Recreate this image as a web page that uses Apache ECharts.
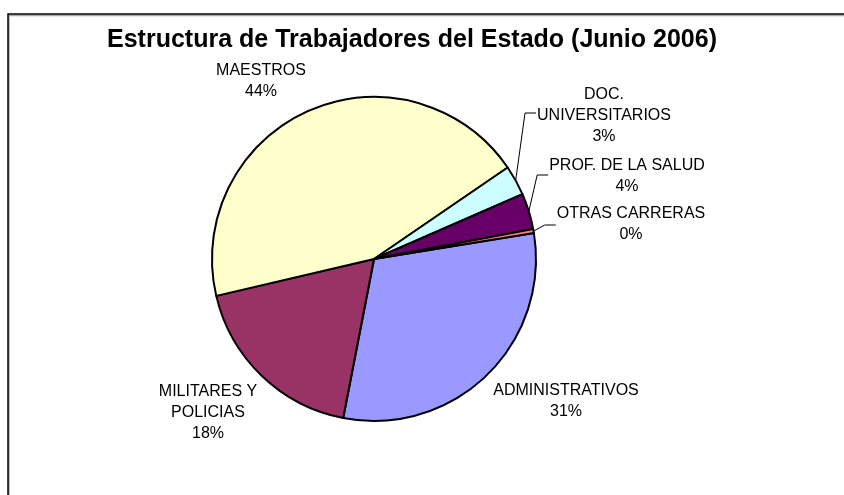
<!DOCTYPE html>
<html>
<head>
<meta charset="utf-8">
<script src="https://cdn.jsdelivr.net/npm/echarts@6/dist/echarts.min.js"></script>
<style>
html,body{margin:0;padding:0;background:#fff;}
#c{width:844px;height:495px;}
</style>
</head>
<body>
<div id="c"></div>
<script>
var titleText = "Estructura de Trabajadores del Estado (Junio 2006)";
var categories = ["ADMINISTRATIVOS", "MILITARES Y\nPOLICIAS", "MAESTROS", "DOC.\nUNIVERSITARIOS", "PROF. DE LA SALUD", "OTRAS CARRERAS"];
var values = [30.6, 18.3, 44.1, 3.0, 3.6, 0.4];
var colors = ["#9999FF", "#993366", "#FFFFCC", "#CCFFFF", "#660066", "#FF8080"];
var showLeader = [false, false, false, true, true, true];
var leaderTurnY = [0, 0, 0, -3, -1, 1];
var labelPos = [[566, 401], [208, 413], [261, 81], [604, 116], [627, 176], [631, 224]];

var total = values.reduce(function(a, b){ return a + b; }, 0);
var data = categories.map(function(n, i){
  return {
    name: n, value: values[i],
    itemStyle: {color: colors[i]},
    labelLine: {show: showLeader[i]}
  };
});

var chart = echarts.init(document.getElementById('c'), null, {renderer: 'canvas'});
chart.setOption({
  animation: false,
  backgroundColor: '#fff',
  title: {
    text: titleText, left: 407, top: 23, textAlign: 'center',
    textStyle: {fontFamily: 'Liberation Sans, Arial', fontSize: 25, fontWeight: 'bold', color: '#000'}
  },
  graphic: [{
    type: 'rect', shape: {x: 8, y: 14, width: 900, height: 600},
    style: {fill: null, stroke: '#000', lineWidth: 1.5, shadowColor: 'rgba(0,0,0,0.35)', shadowOffsetX: 1, shadowOffsetY: 1.5, shadowBlur: 0},
    silent: true, z: -1
  }],
  series: [{
    type: 'pie',
    center: [374, 259],
    radius: [0, 162],
    startAngle: 9.2,
    clockwise: true,
    avoidLabelOverlap: false,
    data: data,
    itemStyle: {borderColor: '#000', borderWidth: 2},
    label: {
      show: true, position: 'outside',
      fontFamily: 'Liberation Sans, Arial', fontSize: 16, color: '#000',
      lineHeight: 21, align: 'center',
      formatter: function(p){ return p.name + '\n' + Math.round(p.value / total * 100) + '%'; }
    },
    labelLine: {show: true, length: 10, length2: 10, lineStyle: {color: '#000', width: 1}},
    labelLayout: function(params){
      var i = params.dataIndex;
      var pos = labelPos[i];
      var out = {x: pos[0], y: pos[1], align: 'center', verticalAlign: 'middle'};
      if (showLeader[i] && params.labelLinePoints) {
        var anchor = params.labelLinePoints[0];
        var left = pos[0] - params.labelRect.width / 2 - 1;
        var ty = pos[1] + leaderTurnY[i];
        out.labelLinePoints = [[anchor[0], anchor[1]], [left - 11, ty], [left, ty]];
      }
      return out;
    },
    emphasis: {disabled: true}
  }]
});
</script>
</body>
</html>
